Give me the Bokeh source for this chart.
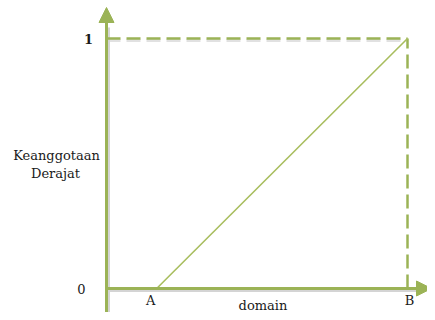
from bokeh.plotting import figure
from bokeh.models import Arrow, NormalHead, Range1d
from bokeh.core.properties import value
from bokeh.embed import file_html
from bokeh.resources import INLINE

# data
domain_points = [1.0, 6.0]          # A, B
domain_labels = ["A", "B"]
membership = [0.0, 1.0]
membership_labels = ["0", "1"]
y_title = ["Keanggotaan", "Derajat"]
x_title = "domain"

A, B = domain_points
GREEN = "#9BB356"
LIGHT = "#A8BD5E"
SHADOW = "#d4d4d4"
TXT = "#1a1a1a"
FONT = value("DejaVu Serif")
FS = "13px"

W, H = 427, 312
ox, oy = 106, 288         # pixel position of origin inside the frame
sx = 301 / (B - 0)        # px per domain unit
sy = 250 / 1.0            # px per membership unit

p = figure(width=W, height=H, output_backend="svg", toolbar_location=None,
           x_axis_type=None, y_axis_type=None, min_border=0,
           x_range=Range1d(-ox / sx, (W - ox) / sx),
           y_range=Range1d(-(H - oy) / sy, oy / sy))
p.grid.visible = False
p.outline_line_color = None
p.background_fill_color = "white"
p.border_fill_color = "white"

dx = 2 / sx
dy = 2 / sy
x_end = (W + 4 - ox) / sx
y_top = (oy - 7) / sy
y_bot = -25 / sy

# shadows
p.line([0 + dx, 0 + dx], [y_bot, y_top - 20 / sy], line_color=SHADOW, line_width=3)
p.line([0, x_end - 14 / sx], [membership[0] - dy, membership[0] - dy], line_color=SHADOW, line_width=3)
p.line([0, B], [membership[1] - dy, membership[1] - dy], line_color=SHADOW, line_width=3, line_dash="14 6", line_alpha=0.7)

# axes with arrows
p.add_layout(Arrow(end=NormalHead(size=15, fill_color=GREEN, line_color=GREEN),
                   x_start=0, y_start=y_bot, x_end=0, y_end=y_top,
                   line_color=GREEN, line_width=3))
p.add_layout(Arrow(end=NormalHead(size=15, fill_color=GREEN, line_color=GREEN),
                   x_start=0, y_start=membership[0], x_end=x_end, y_end=membership[0],
                   line_color=GREEN, line_width=3))

# dashed guides
p.line([0, B], [membership[1], membership[1]], line_color=GREEN, line_width=2.5, line_dash="14 6")
p.line([B, B], [membership[0], membership[1]], line_color=GREEN, line_width=2.5, line_dash="14 6")

# membership function
p.line(domain_points, membership, line_color=LIGHT, line_width=1.6)

# labels
p.text(x=[0], y=[membership[0]], text=[membership_labels[0]], x_offset=-25,
       text_align="center", text_baseline="middle", text_font=FONT,
       text_font_size=FS, text_color=TXT)
p.text(x=[0], y=[membership[1]], text=[membership_labels[1]], x_offset=-18,
       text_align="center", text_baseline="middle", text_font=FONT,
       text_font_size=FS, text_font_style="bold", text_color=TXT)
p.text(x=domain_points, y=[0, 0], text=domain_labels, x_offset=[-6, 2], y_offset=[12, 12],
       text_align="center", text_baseline="middle", text_font=FONT,
       text_font_size=FS, text_color=TXT)
p.text(x=[B / 2], y=[0], text=[x_title], x_offset=6, y_offset=17,
       text_align="center", text_baseline="middle", text_font=FONT,
       text_font_size=FS, text_color=TXT)
p.text(x=[0, 0], y=[0.532, 0.46], text=y_title, x_offset=[-50, -51],
       text_align="center", text_baseline="middle", text_font=FONT,
       text_font_size=FS, text_color=TXT)

open("out.html", "w").write(file_html(p, INLINE))
